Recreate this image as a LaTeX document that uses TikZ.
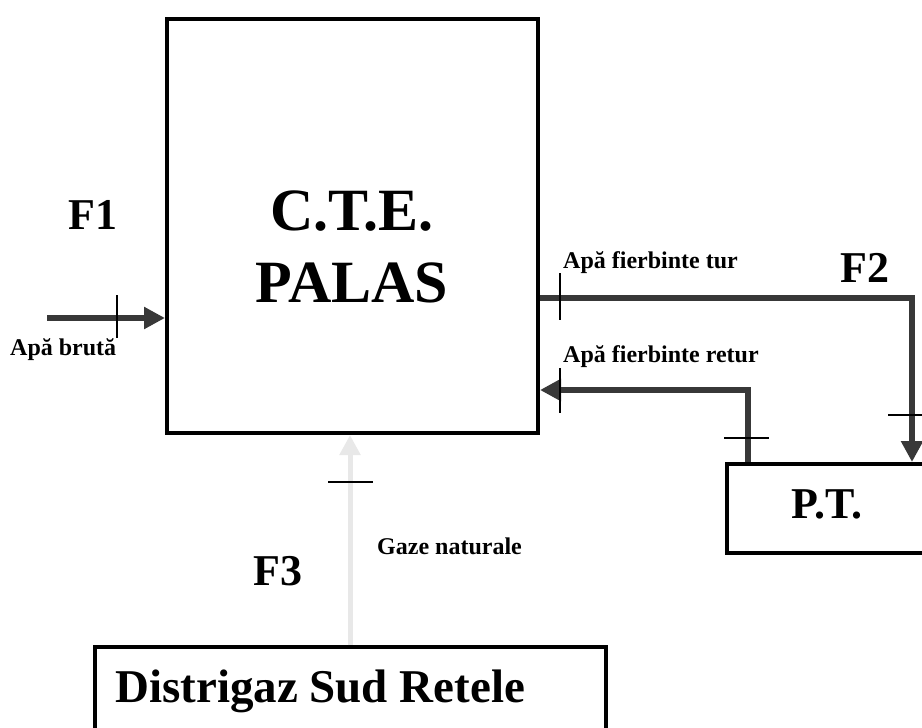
\documentclass[tikz,border=0pt]{standalone}
\usepackage{fontspec}
\setmainfont{Liberation Serif}
\usetikzlibrary{arrows.meta,calc}
\tikzset{
  boxnode/.style={draw=black, line width=4pt, fill=none, inner sep=0pt, anchor=north west},
  flowline/.style={draw=black!78, line width=5.5pt, -{Triangle[length=21pt,width=21pt]}},
  gasline/.style={draw=black!9, line width=5pt, -{Triangle[length=20pt,width=20pt]}},
  tickmark/.style={draw=black, line width=1.6pt},
  bigtitle/.style={font=\bfseries\fontsize{60}{72}\selectfont, align=center, inner sep=0pt},
  flabel/.style={font=\bfseries\fontsize{44}{50}\selectfont, inner sep=0pt, anchor=base west},
  smalllabel/.style={font=\bfseries\fontsize{24}{28}\selectfont, inner sep=0pt, anchor=base west},
  boxtext/.style={font=\bfseries\fontsize{47}{54}\selectfont, inner sep=0pt, anchor=base west}
}
\begin{document}
\begin{tikzpicture}[x=1pt,y=-1pt]
\clip (0,0) rectangle (922,728);
\fill[white] (0,0) rectangle (922,728);

% main box
\node[boxnode, minimum width=371pt, minimum height=414pt] (cte) at (165,17) {};
\node[bigtitle] (ctetext) at (352,247) {C.T.E.\\PALAS};

% P.T. box
\node[boxnode, minimum width=230pt, minimum height=89pt] (pt) at (725,462) {};
\node[font=\bfseries\fontsize{44}{50}\selectfont, inner sep=0pt, anchor=base] (pttext) at (827,518) {P.T.};

% Distrigaz box
\node[boxnode, minimum width=511pt, minimum height=90pt] (dsr) at (93,645) {};
\node[boxtext] (dsrtext) at (115,702) {Distrigaz Sud Retele};

% F labels
\node[flabel] (f1) at (68,229) {F1};
\node[flabel] (f2) at (840,282) {F2};
\node[flabel] (f3) at (253,585) {F3};

% small labels
\node[smalllabel] (lbrut) at (10,355) {Apă brută};
\node[smalllabel] (ltur) at (563,268) {Apă fierbinte tur};
\node[smalllabel] (lretur) at (563,362) {Apă fierbinte retur};
\node[smalllabel] (lgaz) at (377,554) {Gaze naturale};

% coordinates
\coordinate (brutstart) at (47,318);
\coordinate (tury) at (0,298);
\coordinate (turbend) at (912,298);
\coordinate (returbend) at (748,390);
\coordinate (gasx) at (350,0);

% Apa bruta
\draw[flowline] (brutstart) -- (cte.west |- brutstart);
\draw[tickmark] (117,295) -- (117,338);

% tur
\draw[flowline] (cte.east |- tury) -- (turbend) -- (turbend |- pt.north);
\draw[tickmark] (560,273) -- (560,320);
\draw[tickmark] (888,415) -- (936,415);

% retur
\draw[flowline] (returbend |- pt.north) -- (returbend) -- (cte.east |- returbend);
\draw[tickmark] (560,368) -- (560,413);
\draw[tickmark] (724,438) -- (769,438);

% gas
\draw[gasline] (gasx |- dsr.north) -- (gasx |- cte.south);
\draw[tickmark] (328,482) -- (373,482);
\end{tikzpicture}
\end{document}
